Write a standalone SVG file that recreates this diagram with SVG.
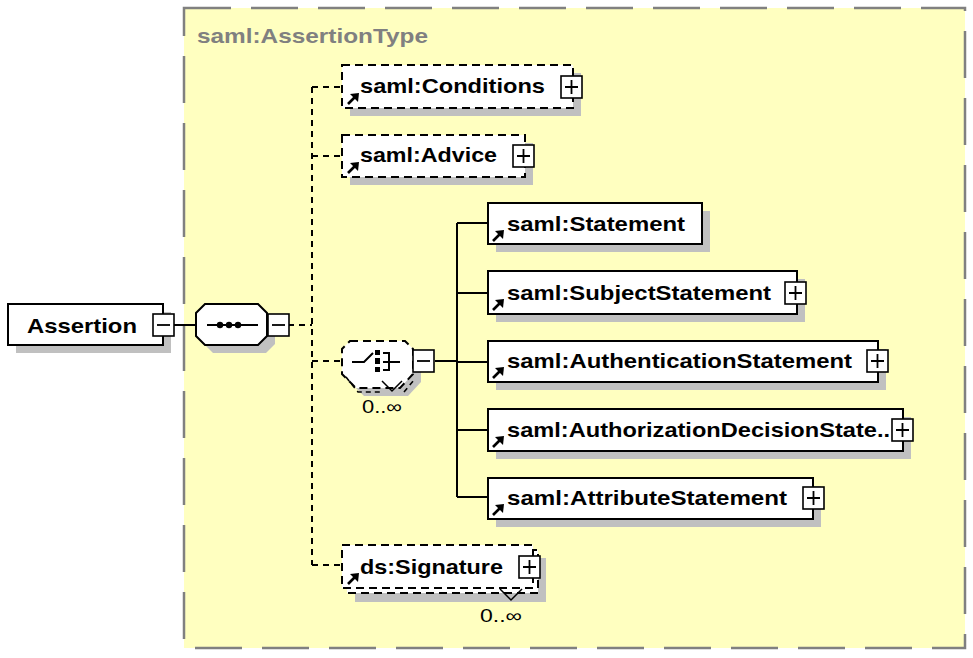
<svg xmlns="http://www.w3.org/2000/svg" width="973" height="658" viewBox="0 0 973 658">
<defs>
<style>
.lbl{font-family:"Liberation Sans",Arial,sans-serif;font-weight:bold;font-size:21px;fill:#000}
.occ{font-family:"Liberation Sans",Arial,sans-serif;font-size:18px;fill:#000}
.box{fill:#fff;stroke:#000;stroke-width:2}
.dbox{fill:#fff;stroke:#000;stroke-width:2;stroke-dasharray:8 5}
.shd{fill:#c0c0c0;stroke:none}
.btn{fill:#fff;stroke:#000;stroke-width:1.6}
.pm{stroke:#000;stroke-width:1.8;fill:none}
.solid{stroke:#000;stroke-width:2;fill:none}
.dash{stroke:#000;stroke-width:2;fill:none;stroke-dasharray:6 5}
</style>
<g id="arrow">
<path d="M3,-3 L10,-10" stroke="#000" stroke-width="2.6" fill="none"/>
<polygon points="14,-14 5,-13 13,-5" fill="#000"/>
</g>
<g id="plus">
<rect x="0" y="0" width="21" height="22" class="btn"/>
<path d="M4,11 H17 M10.5,4 V18" class="pm"/>
</g>
<g id="minus">
<rect x="0" y="0" width="21" height="22" class="btn"/>
<path d="M4,11 H17" class="pm"/>
</g>
</defs>

<rect x="0" y="0" width="973" height="658" fill="#fff"/>

<g id="assertionType">
<rect x="184" y="8" width="781" height="640" fill="#ffffc0" stroke="#808080" stroke-width="2.5" stroke-dasharray="47 20"/>
<text x="197" y="43" class="lbl" style="fill:#808080" textLength="231" lengthAdjust="spacingAndGlyphs">saml:AssertionType</text>
</g>

<g id="connectors">
<path d="M174,325 H196" class="solid"/>
<path d="M288,325 H312" class="dash"/>
<path d="M312,87 V565" class="dash"/>
<path d="M312,87 H342 M312,156 H342 M312,361 H342 M312,565 H342" class="dash"/>
<path d="M435,361 H457 M457,223 V497 M457,223 H488 M457,293 H488 M457,362 H488 M457,430 H488 M457,497 H488" class="solid"/>
</g>

<g id="assertion">
<rect x="16" y="312" width="155" height="41" class="shd"/>
<rect x="8" y="304" width="155" height="41" class="box"/>
<text x="27" y="333" class="lbl" textLength="110" lengthAdjust="spacingAndGlyphs">Assertion</text>
<use href="#minus" x="153" y="314"/>
</g>

<g id="sequence">
<polygon points="213,312 266,312 275,321 275,344 266,353 213,353 204,344 204,321" class="shd"/>
<polygon points="205,304 258,304 267,313 267,336 258,345 205,345 196,336 196,313" class="box"/>
<path d="M207,325 H258" class="solid"/>
<circle cx="220" cy="325" r="3.2" fill="#000"/>
<circle cx="229" cy="325" r="3.2" fill="#000"/>
<circle cx="238" cy="325" r="3.2" fill="#000"/>
<use href="#minus" x="268" y="314"/>
</g>

<g id="conditions">
<rect x="350" y="73" width="231" height="43" class="shd"/>
<rect x="342" y="65" width="231" height="43" class="dbox"/>
<use href="#arrow" x="345" y="107"/>
<text x="360" y="93" class="lbl" textLength="185" lengthAdjust="spacingAndGlyphs">saml:Conditions</text>
<use href="#plus" x="561" y="76"/>
</g>

<g id="advice">
<rect x="350" y="143" width="183" height="42" class="shd"/>
<rect x="342" y="135" width="183" height="42" class="dbox"/>
<use href="#arrow" x="345" y="176"/>
<text x="360" y="162" class="lbl" textLength="137" lengthAdjust="spacingAndGlyphs">saml:Advice</text>
<use href="#plus" x="513" y="145"/>
</g>

<g id="choice">
<polygon points="358,349 413,349 421,357 421,382 408,396 364,396 350,382 350,357" class="shd"/>
<polygon points="350,341 405,341 413,349 413,374 400,388 356,388 342,374 342,349" class="dbox"/>
<path d="M346,377 L358,392 H380 M404,392 L414,380" fill="none" stroke="#000" stroke-width="1.6" stroke-dasharray="5 4"/>
<path d="M382,381 L392,391 L402,381" fill="none" stroke="#000" stroke-width="1.5"/>
<path d="M352,362 H364 L373,353" class="solid"/>
<rect x="375" y="350" width="5" height="5" fill="#000"/>
<rect x="375" y="358" width="5" height="6" fill="#000"/>
<rect x="375" y="367" width="5" height="5" fill="#000"/>
<path d="M383,353 H389 V370 H383 M383,362 H400" class="solid"/>
<use href="#minus" x="413" y="350"/>
<text x="362" y="413" class="occ" textLength="40" lengthAdjust="spacingAndGlyphs">0..∞</text>
</g>

<g id="statement">
<rect x="496" y="211" width="214" height="41" class="shd"/>
<rect x="488" y="203" width="214" height="41" class="box"/>
<use href="#arrow" x="490" y="244"/>
<text x="507" y="231" class="lbl" textLength="178" lengthAdjust="spacingAndGlyphs">saml:Statement</text>
</g>

<g id="subjectStatement">
<rect x="496" y="279" width="309" height="43" class="shd"/>
<rect x="488" y="271" width="309" height="43" class="box"/>
<use href="#arrow" x="490" y="313"/>
<text x="507" y="300" class="lbl" textLength="264" lengthAdjust="spacingAndGlyphs">saml:SubjectStatement</text>
<use href="#plus" x="785" y="282"/>
</g>

<g id="authenticationStatement">
<rect x="496" y="349" width="390" height="41" class="shd"/>
<rect x="488" y="341" width="390" height="41" class="box"/>
<use href="#arrow" x="490" y="381"/>
<text x="507" y="368" class="lbl" textLength="345" lengthAdjust="spacingAndGlyphs">saml:AuthenticationStatement</text>
<use href="#plus" x="867" y="350"/>
</g>

<g id="authorizationDecisionStatement">
<rect x="496" y="417" width="415" height="42" class="shd"/>
<rect x="488" y="409" width="415" height="42" class="box"/>
<use href="#arrow" x="490" y="450"/>
<text x="507" y="437" class="lbl" textLength="383" lengthAdjust="spacingAndGlyphs">saml:AuthorizationDecisionState..</text>
<use href="#plus" x="892" y="419"/>
</g>

<g id="attributeStatement">
<rect x="496" y="486" width="325" height="41" class="shd"/>
<rect x="488" y="478" width="325" height="41" class="box"/>
<use href="#arrow" x="490" y="518"/>
<text x="507" y="505" class="lbl" textLength="280" lengthAdjust="spacingAndGlyphs">saml:AttributeStatement</text>
<use href="#plus" x="803" y="487"/>
</g>

<g id="signature">
<rect x="355" y="558" width="191" height="44" class="shd"/>
<rect x="347" y="550" width="191" height="43" class="dbox"/>
<rect x="342" y="545" width="191" height="43" class="dbox"/>
<path d="M500,589 L511,600 L522,589" fill="none" stroke="#000" stroke-width="1.5"/>
<use href="#arrow" x="345" y="587"/>
<text x="360" y="574" class="lbl" textLength="143" lengthAdjust="spacingAndGlyphs">ds:Signature</text>
<use href="#plus" x="519" y="556"/>
<text x="480" y="622" class="occ" textLength="42" lengthAdjust="spacingAndGlyphs">0..∞</text>
</g>
</svg>
